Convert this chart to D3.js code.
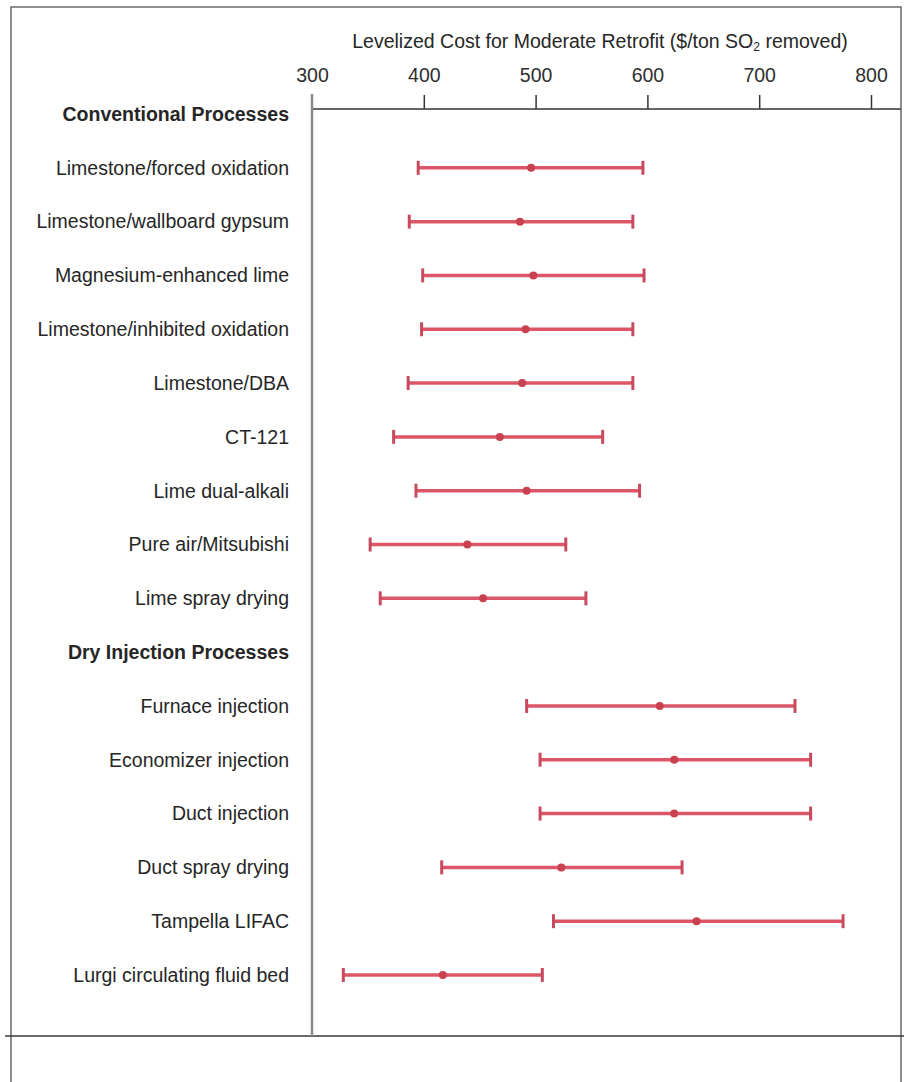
<!DOCTYPE html>
<html lang="en">
    <head>
        <meta charset="utf-8">
        <title>Levelized Cost for Moderate Retrofit</title>
        <script src="https://d3js.org/d3.v7.min.js"></script>
        <style type="text/css">
            body {
                margin: 0;
                background: #fff;
            }
            .labels {
                font-family: "Liberation Sans", Arial, sans-serif;
                font-size: 19.5px;
                fill: #262626;
            }
            .header {
                font-weight: bold;
            }
            .axis text {
                font-family: "Liberation Sans", Arial, sans-serif;
                font-size: 19.5px;
                fill: #2e2e2e;
            }
        </style>
    </head>
    <body>
        <script type="text/javascript">
            // rows top to bottom, headers included
            const processes = ["Conventional Processes", "Limestone/forced oxidation", "Limestone/wallboard gypsum",
                "Magnesium-enhanced lime", "Limestone/inhibited oxidation", "Limestone/DBA", "CT-121",
                "Lime dual-alkali", "Pure air/Mitsubishi", "Lime spray drying", "Dry Injection Processes",
                "Furnace injection", "Economizer injection", "Duct injection", "Duct spray drying",
                "Tampella LIFAC", "Lurgi circulating fluid bed"];
            const headers = ["Conventional Processes", "Dry Injection Processes"];

            // $/ton SO2 removed, null for the header rows
            const lowCost = [null, 395, 387, 399, 398, 386, 373, 393, 352, 361, null, 492, 504, 504, 416, 516, 328];
            const midCost = [null, 496, 486, 498, 491, 488, 468, 492, 439, 453, null, 611, 624, 624, 523, 644, 417];
            const highCost = [null, 596, 587, 597, 587, 587, 560, 593, 527, 545, null, 732, 746, 746, 631, 775, 506];

            const tickValues = [300, 400, 500, 600, 700, 800];

            const w = 904;
            const h = 1082;

            const data = processes.map((p, i) => ({
                name: p,
                low: lowCost[i],
                mid: midCost[i],
                high: highCost[i]
            }));

            const svg = d3.select("body")
                          .append("svg")
                          .attr("width", w)
                          .attr("height", h);

            //scales
            const x = d3.scaleLinear().domain([300, 800]).range([312, 871]);
            const y = d3.scalePoint().domain(processes).range([114, 975]);

            //frame
            svg.append("rect")
               .attr("x", 11)
               .attr("y", 7)
               .attr("width", 890)
               .attr("height", 1090)
               .attr("fill", "none")
               .attr("stroke", "#6a6a6a")
               .attr("stroke-width", 1.5);

            svg.append("line")
               .attr("x1", 5).attr("x2", 904)
               .attr("y1", 1036).attr("y2", 1036)
               .attr("stroke", "#3a3a3a")
               .attr("stroke-width", 1.5);

            //title
            const title = svg.append("text")
                .attr("class", "labels")
                .attr("x", 600)
                .attr("y", 48)
                .attr("text-anchor", "middle")
                .attr("fill", "#2e2e2e");
            title.append("tspan").text("Levelized Cost for Moderate Retrofit ($/ton SO");
            title.append("tspan").attr("font-size", "12px").attr("dy", 3).text("2");
            title.append("tspan").attr("dy", -3).text(" removed)");

            //x axis
            const xAxis = d3.axisTop(x)
                            .tickValues(tickValues)
                            .tickSize(14)
                            .tickPadding(13)
                            .tickSizeOuter(0);

            const gx = svg.append("g")
                          .attr("class", "axis")
                          .attr("transform", "translate(0,109)")
                          .call(xAxis);
            gx.select(".domain").remove();
            gx.selectAll(".tick line").attr("stroke", "#333").attr("stroke-width", 1.5);
            gx.selectAll(".tick").filter(d => d === 300).select("line").remove();

            svg.append("line")
               .attr("x1", x(300)).attr("x2", 901)
               .attr("y1", 109).attr("y2", 109)
               .attr("stroke", "#333")
               .attr("stroke-width", 1.5);

            //vertical axis
            svg.append("line")
               .attr("x1", x(300)).attr("x2", x(300))
               .attr("y1", 94).attr("y2", 1036)
               .attr("stroke", "#8a8a8a")
               .attr("stroke-width", 2.5);

            //row labels
            svg.selectAll("text.row")
               .data(data)
               .enter()
               .append("text")
               .attr("class", d => headers.includes(d.name) ? "labels row header" : "labels row")
               .attr("x", 289)
               .attr("y", d => y(d.name))
               .attr("dy", "0.35em")
               .attr("text-anchor", "end")
               .text(d => d.name);

            //ranges
            const bars = svg.selectAll("g.range")
                            .data(data.filter(d => d.low !== null))
                            .enter()
                            .append("g")
                            .attr("class", "range");

            bars.append("line")
                .attr("x1", d => x(d.low))
                .attr("x2", d => x(d.high))
                .attr("y1", d => y(d.name))
                .attr("y2", d => y(d.name))
                .attr("stroke", "#dd5668")
                .attr("stroke-width", 3.5);

            bars.selectAll("line.cap")
                .data(d => [{v: d.low, n: d.name}, {v: d.high, n: d.name}])
                .enter()
                .append("line")
                .attr("class", "cap")
                .attr("x1", d => x(d.v))
                .attr("x2", d => x(d.v))
                .attr("y1", d => y(d.n) - 7)
                .attr("y2", d => y(d.n) + 7)
                .attr("stroke", "#c84a5e")
                .attr("stroke-width", 3);

            bars.append("circle")
                .attr("cx", d => x(d.mid))
                .attr("cy", d => y(d.name))
                .attr("r", 4)
                .attr("fill", "#c9404f");
        </script>
    </body>
</html>
